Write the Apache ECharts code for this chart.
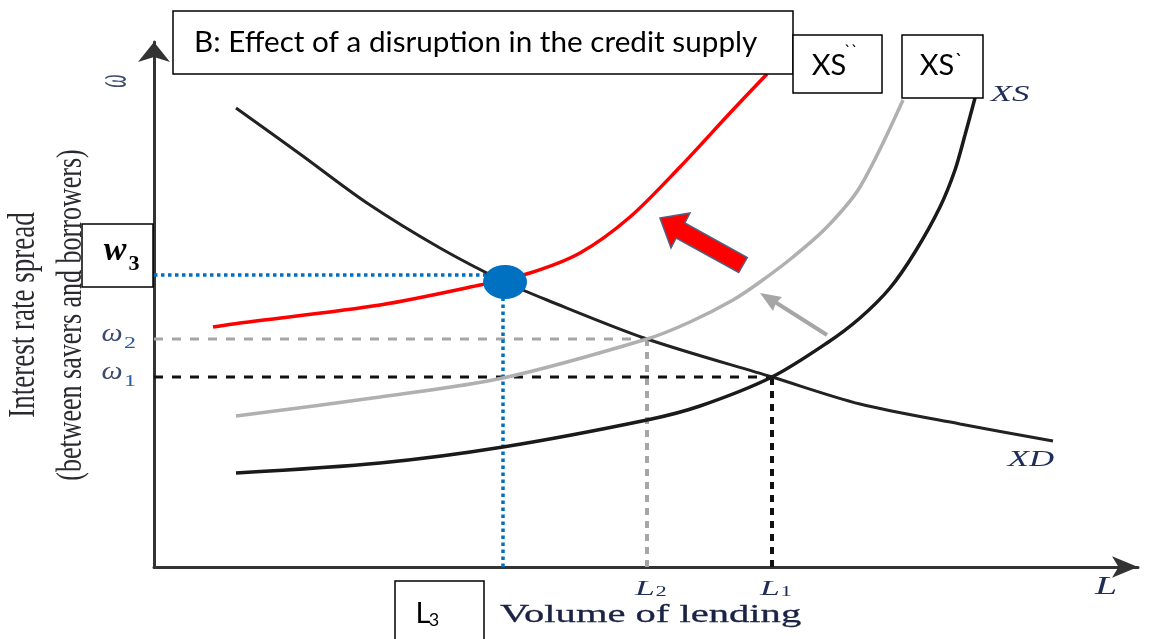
<!DOCTYPE html>
<html>
<head>
<meta charset="utf-8">
<title>Credit supply disruption</title>
<script src="https://cdn.jsdelivr.net/npm/echarts@6.0.0/dist/echarts.min.js"></script>
<style>
html, body { margin: 0; padding: 0; background: #fff; }
#main { width: 1152px; height: 639px; }
</style>
</head>
<body>
<div id="main"></div>
<script>
// curves, [volume of lending, spread]
const xdCurve = [[8.2, 45.9], [14.6, 41.3], [21.3, 36.4], [28.6, 31.9], [35.1, 28.5], [39.3, 26.7],
  [49.3, 22.8], [61.8, 19.0], [70.6, 16.3], [80.6, 14.3], [89.9, 12.6]];
const xsCurve = [[8.2, 9.4], [22.6, 10.4], [34.9, 12.0], [49.3, 14.7], [54.6, 16.1], [61.8, 19.0],
  [67.3, 22.4], [70.6, 24.9], [73.6, 27.9], [76.1, 31.5], [78.6, 36.0], [80.1, 39.7], [81.1, 43.2], [82.1, 46.9]];
const xs1Curve = [[8.2, 15.1], [22.6, 17.0], [34.9, 18.9], [49.3, 22.8], [53.6, 24.5], [57.9, 26.7], [60.6, 28.5],
  [63.9, 31.0], [67.3, 34.0], [70.6, 38.0], [74.9, 46.7]];
const xs2Curve = [[5.9, 24.0], [8.6, 24.4], [22.6, 26.2], [32.6, 28.2], [37.6, 29.4], [42.6, 31.4],
  [47.6, 35.0], [52.6, 40.0], [57.6, 45.4], [61.3, 49.3]];

// equilibria
const eq1 = [61.8, 19.0];
const eq2 = [49.3, 22.8];
const eq3 = [34.9, 29.2];
const dotPoint = [35.1, 28.5];

// tick labels
const yTicks = [19.0, 22.8];
const yTickSubs = ['1', '2'];
const xTicks = [49.3, 61.8, 95.2];
const xTickNames = ['L', 'L', 'L'];
const xTickSubs = ['2', '1', ''];

const serif = '"Liberation Serif", "DejaVu Serif", serif';
const sans = 'Lato, "Open Sans", sans-serif';
const navy = '#1f2d57';

let myChart = echarts.init(document.getElementById('main'));

function curve(data, color, width) {
	return {
		type: 'line', data: data, symbol: 'none', smooth: 0.3, silent: true,
		lineStyle: { color: color, width: width }, z: 3
	};
}
function guide(data, color, width, dash) {
	return {
		type: 'line', data: data, symbol: 'none', silent: true,
		lineStyle: { color: color, width: width, type: dash, cap: 'butt' }, z: 2
	};
}

let option = {
	animation: false,
	backgroundColor: '#fff',
	grid: { left: 154, right: 14, top: 42, bottom: 72 },
	xAxis: {
		type: 'value', min: 0, max: 98.4,
		axisLine: { show: true, symbol: ['none', 'arrow'], symbolSize: [16, 26], lineStyle: { color: '#333', width: 3 } },
		axisTick: { show: false }, axisLabel: { show: false }, splitLine: { show: false }
	},
	yAxis: {
		type: 'value', min: 0, max: 52.5,
		axisLine: { show: true, symbol: ['none', 'arrow'], symbolSize: [24, 20], lineStyle: { color: '#333', width: 3 } },
		axisTick: { show: false }, axisLabel: { show: false }, splitLine: { show: false }
	},
	series: [
		guide([[0, eq2[1]], eq2], '#a6a6a6', 3, [9, 9]),
		guide([[eq2[0], 0], eq2], '#a6a6a6', 4, [7, 6]),
		guide([[0, eq1[1]], eq1], '#111', 3, [9, 9]),
		guide([[eq1[0], 0], eq1], '#111', 4, [7, 6]),
		guide([[0, eq3[1]], eq3], '#0070c0', 3.5, [3.5, 3.5]),
		guide([[eq3[0], 0], eq3], '#0070c0', 3.5, [3.5, 3.5]),
		curve(xdCurve, '#222', 3),
		curve(xsCurve, '#1a1a1a', 3.5),
		curve(xs1Curve, '#b0b0b0', 3.5),
		curve(xs2Curve, '#ff0000', 3.5),
		{
			type: 'scatter', data: [dotPoint], symbol: 'circle', symbolSize: [44, 34], silent: true,
			itemStyle: { color: '#0070c0', opacity: 1 }, z: 5
		}
	]
};
myChart.setOption(option);

// text helper, stretched like the original scan
function txt(str, x, y, font, color, sx, sy, rot, align, extra) {
	let el = {
		type: 'text', x: x, y: y, scaleX: sx || 1, scaleY: sy || 1, rotation: rot || 0, z: 60,
		style: {
			text: str, x: 0, y: 0, font: font, fill: color,
			align: align || 'center', textAlign: align || 'center',
			verticalAlign: 'middle', textVerticalAlign: 'middle'
		}
	};
	if (extra) Object.assign(el.style, extra);
	return el;
}
function box(x, y, w, h) {
	return {
		type: 'rect', z: 50, shape: { x: x, y: y, width: w, height: h },
		style: { fill: '#fff', stroke: '#000', lineWidth: 1.5 }
	};
}

const axisX = myChart.convertToPixel({ xAxisIndex: 0 }, 0);
const axisY = myChart.convertToPixel({ yAxisIndex: 0 }, 0);
let g = [];

// y ticks
yTicks.forEach(function (v, i) {
	const py = myChart.convertToPixel({ yAxisIndex: 0 }, v);
	g.push(txt('ω', axisX - 42, py - 4.5, 'italic 26px ' + serif, '#3b4a6e', 1.15));
	g.push(txt(yTickSubs[i], axisX - 24, py + 4.5, '16px ' + serif, '#2a5da6', 1.5));
});
// x ticks
xTicks.forEach(function (v, i) {
	const px = myChart.convertToPixel({ xAxisIndex: 0 }, v);
	if (xTickSubs[i]) {
		g.push(txt(xTickNames[i], px - 2, axisY + 22, 'italic 21px ' + serif, navy, 1.7));
		g.push(txt(xTickSubs[i], px + 14, axisY + 25, '15px ' + serif, navy, 1.5));
	} else {
		g.push(txt(xTickNames[i], px, axisY + 20, 'italic 25px ' + serif, navy, 1.6));
	}
});

// axis titles
g.push(txt('Interest rate spread', 24, 315, '27px ' + serif, '#2a2a30', 1, 1.4, Math.PI / 2));
g.push(txt('(between savers and borrowers)', 71.5, 315, '26px ' + serif, '#2a2a30', 1, 1.4, Math.PI / 2));
g.push(txt('ω', 114, 81, 'italic 19px ' + serif, '#3b4a6e', 1, 2.3, Math.PI / 2));
g.push(txt('Volume of lending', 500, 615, '26px ' + serif, '#1a2344', 1.56, 1, 0, 'left',
	{ stroke: '#1a2344', lineWidth: 0.3 }));

// curve names
g.push(txt('XD', 1031, 460, 'italic 24px ' + serif, navy, 1.45));
g.push(txt('XS', 1010, 95, 'italic 24px ' + serif, navy, 1.45));

// boxes
g.push(box(173, 11, 620, 63));
g.push(txt('B: Effect of a disruption in the credit supply', 194, 42.5, '28px ' + sans, '#000', 1.06, 1, 0, 'left'));
g.push(box(793, 35, 89, 58));
g.push(txt('XS', 829, 66, '29px ' + sans, '#000'));
g.push(txt('``', 851, 52, '17px ' + sans, '#000'));
g.push(box(902, 35, 81, 63));
g.push(txt('XS', 937, 66, '29px ' + sans, '#000'));
g.push(txt('`', 959, 61, '20px ' + sans, '#000'));
g.push(box(82, 224, 71, 63));
g.push(txt('w', 115, 251.5, 'italic bold 34px ' + serif, '#000'));
g.push(txt('3', 134, 264.5, 'bold 22px ' + serif, '#000'));
g.push(box(395, 581, 89, 70));
g.push(txt('L', 423, 614, '29px ' + sans, '#000'));
g.push(txt('3', 434, 620, '18px ' + sans, '#000'));

// red shift arrow
g.push({
	type: 'polygon', z: 40,
	shape: { points: [[660, 218], [690, 213], [684.8, 223], [747.3, 257.5], [738.7, 272.5], [676.2, 238], [671, 248]] },
	style: { fill: '#ff0000', stroke: '#4d6282', lineWidth: 1.5 }
});
// grey arrow
g.push({
	type: 'line', z: 40, shape: { x1: 827, y1: 335, x2: 775, y2: 302 },
	style: { stroke: '#a6a6a6', lineWidth: 4 }
});
g.push({
	type: 'polygon', z: 40,
	shape: { points: [[760, 293], [782, 297], [776, 303], [773, 311]] },
	style: { fill: '#a6a6a6' }
});

myChart.setOption({ graphic: g });
</script>
</body>
</html>
